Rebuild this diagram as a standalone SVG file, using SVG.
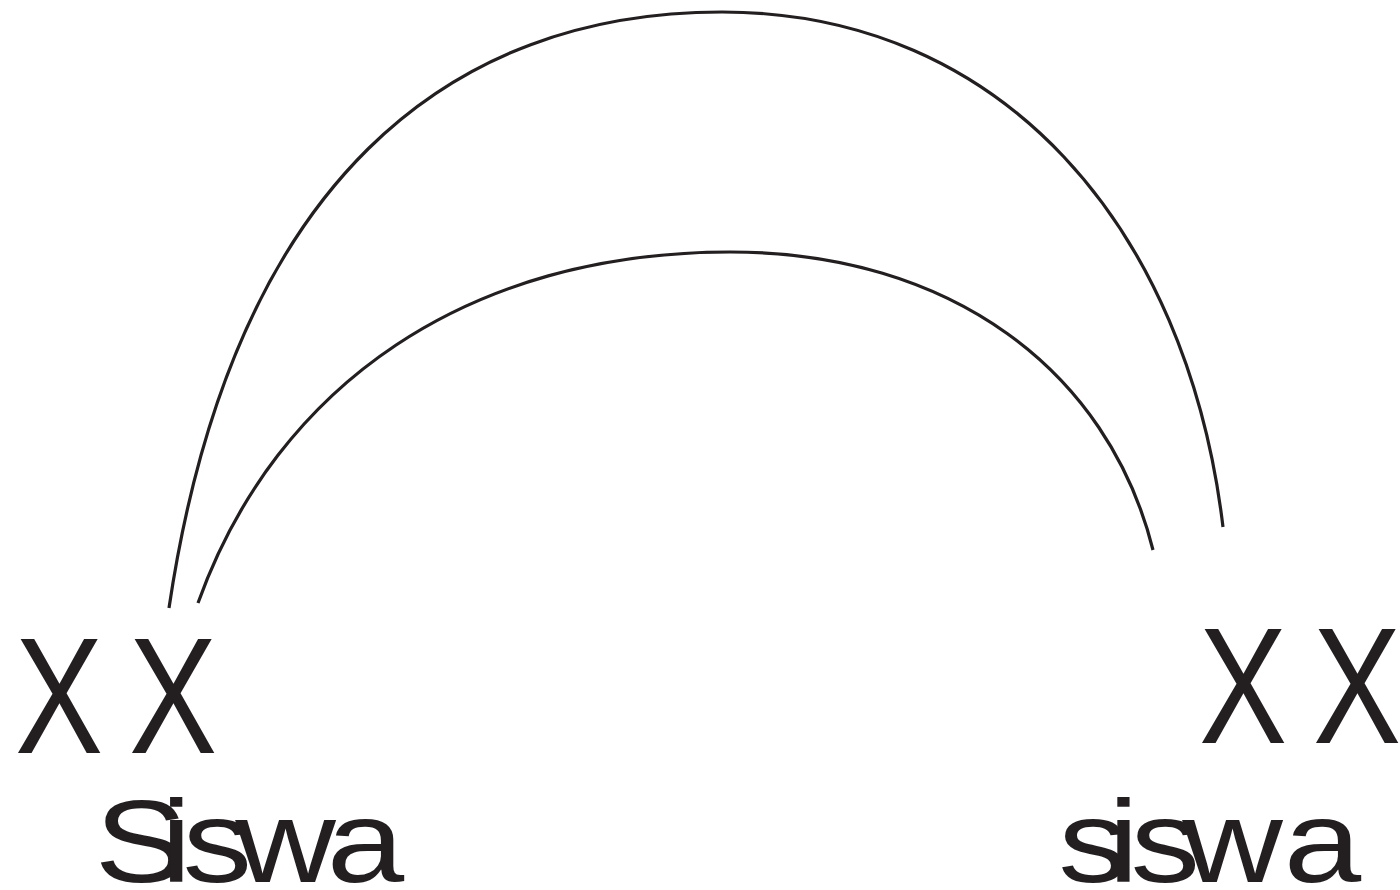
<svg xmlns="http://www.w3.org/2000/svg" width="1400" height="890" viewBox="0 0 1400 890">
<style>
.arc{fill:none;stroke:#231f20;stroke-width:3.2}
.x{font-family:"Liberation Sans",Arial,sans-serif;font-size:165px;fill:#231f20}
.w{font-family:"Liberation Sans",Arial,sans-serif;font-size:116px;fill:#231f20}
</style>
<rect width="1400" height="890" fill="#fff"/>
<g id="connectors">
<path class="arc" d="M169,608 C233,178 452,12 722,12 C1002,12 1187,227 1223,527"/>
<path class="arc" d="M198,603 C277,383 470,252 730,252 C950,252 1108,370 1153,550"/>
</g>
<g id="left">
<text class="x" transform="translate(15,753) scale(0.8,1)">X</text>
<text class="x" transform="translate(129,753) scale(0.8,1)">X</text>
<text class="w" transform="translate(94.6,882) scale(1.2,1)" x="0 55.1 73.25 117.2 193.4" y="0">Siswa</text>
</g>
<g id="right">
<text class="x" transform="translate(1199,743) scale(0.8,1)">X</text>
<text class="x" transform="translate(1313,743) scale(0.8,1)">X</text>
<text class="w" transform="translate(1058.2,882) scale(1.2,1)" x="0 41.5 60.25 103.3 187.9" y="0">siswa</text>
</g>
</svg>
